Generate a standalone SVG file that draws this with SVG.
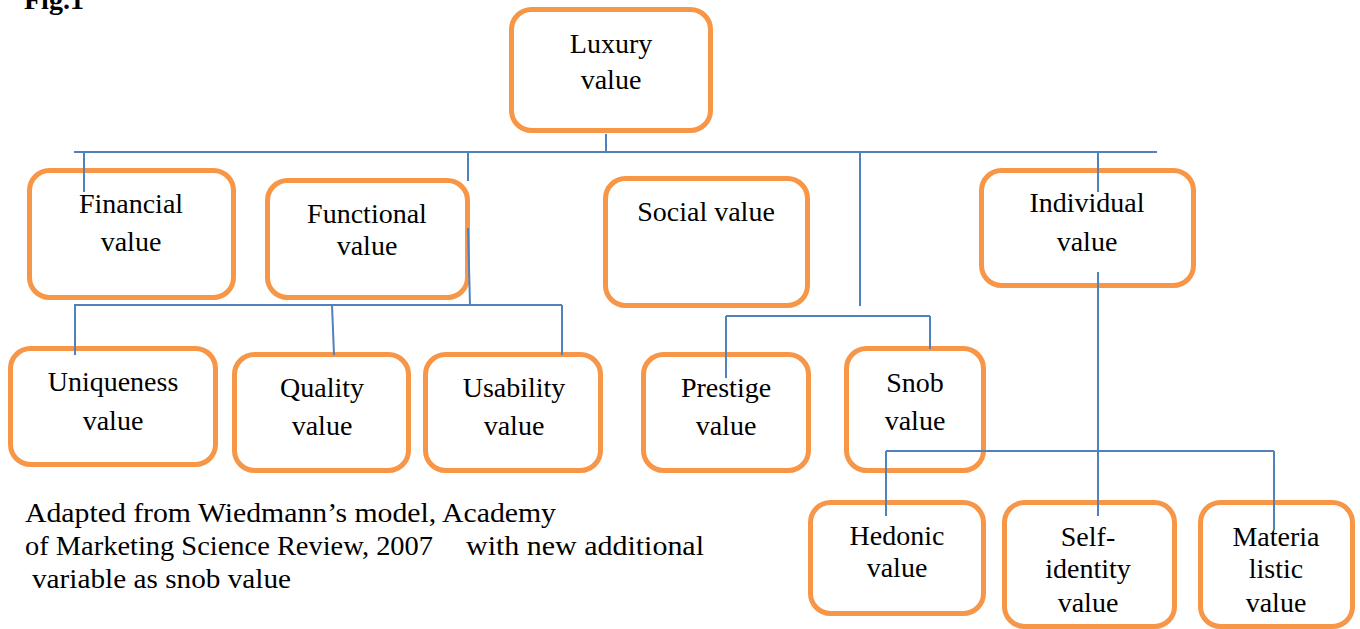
<svg xmlns="http://www.w3.org/2000/svg" width="1360" height="629" viewBox="0 0 1360 629">
  <style>
    .box { fill: #ffffff; stroke: #F79646; stroke-width: 5; }
    .lbl { font-family: "Liberation Serif", "Times New Roman", serif; font-size: 28px; fill: #000000; text-anchor: middle; }
    .cap { font-family: "Liberation Serif", "Times New Roman", serif; font-size: 28px; fill: #000000; }
    .fig { font-family: "Liberation Serif", "Times New Roman", serif; font-size: 28px; font-weight: bold; fill: #000000; }
    .conn line { stroke: #4F81BD; stroke-width: 2; }
  </style>

  <text class="fig" x="24" y="9">Fig.1</text>

  <!-- level 0 -->
  <g id="luxury">
    <rect class="box" x="511.5" y="9.5" width="199" height="121" rx="20"/>
    <text class="lbl" x="611" y="53">Luxury</text>
    <text class="lbl" x="611" y="89">value</text>
  </g>

  <!-- level 1 -->
  <g id="financial">
    <rect class="box" x="29.5" y="170.5" width="204" height="127" rx="20"/>
    <text class="lbl" x="131" y="213">Financial</text>
    <text class="lbl" x="131" y="251">value</text>
  </g>
  <g id="functional">
    <rect class="box" x="267.5" y="180.5" width="200" height="117" rx="20"/>
    <text class="lbl" x="367" y="223">Functional</text>
    <text class="lbl" x="367" y="255">value</text>
  </g>
  <g id="social">
    <rect class="box" x="605.5" y="178.5" width="202" height="127" rx="20"/>
    <text class="lbl" x="706" y="221">Social value</text>
  </g>
  <g id="individual">
    <rect class="box" x="981.5" y="170.5" width="212" height="115" rx="20"/>
    <text class="lbl" x="1087" y="212">Individual</text>
    <text class="lbl" x="1087" y="251">value</text>
  </g>

  <!-- level 2 -->
  <g id="uniqueness">
    <rect class="box" x="10.5" y="348.5" width="205" height="116" rx="20"/>
    <text class="lbl" x="113" y="391">Uniqueness</text>
    <text class="lbl" x="113" y="430">value</text>
  </g>
  <g id="quality">
    <rect class="box" x="234.5" y="354.5" width="174" height="116" rx="20"/>
    <text class="lbl" x="322" y="397">Quality</text>
    <text class="lbl" x="322" y="435">value</text>
  </g>
  <g id="usability">
    <rect class="box" x="425.5" y="354.5" width="175" height="116" rx="20"/>
    <text class="lbl" x="514" y="397">Usability</text>
    <text class="lbl" x="514" y="435">value</text>
  </g>
  <g id="prestige">
    <rect class="box" x="643.5" y="354.5" width="165" height="116" rx="20"/>
    <text class="lbl" x="726" y="397">Prestige</text>
    <text class="lbl" x="726" y="435">value</text>
  </g>
  <g id="snob">
    <rect class="box" x="846.5" y="348.5" width="137" height="122" rx="20"/>
    <text class="lbl" x="915" y="392">Snob</text>
    <text class="lbl" x="915" y="430">value</text>
  </g>
  <g id="hedonic">
    <rect class="box" x="810.5" y="502.5" width="173" height="111" rx="20"/>
    <text class="lbl" x="897" y="545">Hedonic</text>
    <text class="lbl" x="897" y="577">value</text>
  </g>
  <g id="self-identity">
    <rect class="box" x="1004.5" y="502.5" width="170" height="124" rx="20"/>
    <text class="lbl" x="1088" y="546">Self-</text>
    <text class="lbl" x="1088" y="578">identity</text>
    <text class="lbl" x="1088" y="612">value</text>
  </g>
  <g id="materialistic">
    <rect class="box" x="1200.5" y="502.5" width="152" height="124" rx="20"/>
    <text class="lbl" x="1276" y="546">Materia</text>
    <text class="lbl" x="1276" y="578">listic</text>
    <text class="lbl" x="1276" y="612">value</text>
  </g>

  <!-- connectors -->
  <g id="connectors" class="conn">
    <line x1="606" y1="134" x2="606" y2="152"/>
    <line x1="74" y1="152" x2="1157" y2="152"/>
    <line x1="84" y1="152" x2="84" y2="192"/>
    <line x1="468" y1="152" x2="468" y2="181"/>
    <line x1="860" y1="152" x2="860" y2="306"/>
    <line x1="1098" y1="152" x2="1098" y2="192"/>

    <line x1="468" y1="228" x2="470" y2="305"/>
    <line x1="74" y1="305" x2="562" y2="305"/>
    <line x1="75" y1="305" x2="75" y2="355"/>
    <line x1="332" y1="305" x2="334" y2="355"/>
    <line x1="562" y1="305" x2="562" y2="355"/>

    <line x1="726" y1="316" x2="930" y2="316"/>
    <line x1="726" y1="316" x2="726" y2="378"/>
    <line x1="930" y1="316" x2="930" y2="349"/>

    <line x1="1098" y1="272" x2="1098" y2="516"/>
    <line x1="886" y1="451" x2="1274" y2="451"/>
    <line x1="886" y1="451" x2="886" y2="516"/>
    <line x1="1274" y1="451" x2="1274" y2="530"/>
  </g>

  <!-- source note -->
  <text class="cap" x="25" y="522" textLength="531" lengthAdjust="spacingAndGlyphs">Adapted from Wiedmann’s model, Academy</text>
  <text class="cap" x="25" y="555" textLength="408" lengthAdjust="spacingAndGlyphs">of Marketing Science Review, 2007</text>
  <text class="cap" x="466" y="555" textLength="238" lengthAdjust="spacingAndGlyphs">with new additional</text>
  <text class="cap" x="32" y="588" textLength="259" lengthAdjust="spacingAndGlyphs">variable as snob value</text>
</svg>
